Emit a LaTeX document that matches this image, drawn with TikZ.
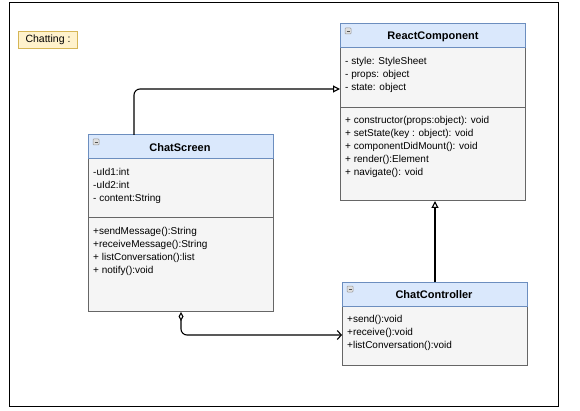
\documentclass[tikz,border=0pt]{standalone}
\usepackage{fontspec}
\setmainfont{Liberation Sans}
\usetikzlibrary{arrows.meta}
\definecolor{headfill}{HTML}{DAE8FC}
\definecolor{headline}{HTML}{6C8EBF}
\definecolor{bodyfill}{HTML}{F5F5F5}
\definecolor{bodyline}{HTML}{666666}
\definecolor{notefill}{HTML}{FFF2CC}
\definecolor{noteline}{HTML}{D6B656}
\tikzset{
  classbox/.style={draw=bodyline, fill=bodyfill, line width=1pt, anchor=north west, inner sep=0pt},
  headbar/.style={fill=headfill, draw=headline, line width=1pt},
  divline/.style={draw=bodyline, line width=1pt},
  title/.style={font=\bfseries\fontsize{11}{13}\selectfont, inner sep=0pt},
  members/.style={font=\fontsize{10}{13}\selectfont, align=left, anchor=north west, inner sep=0pt},
  collapse/.style={draw=gray!80, fill=gray!25, line width=0.5pt, rounded corners=0.8pt},
  inh/.style={draw=black, line width=1.1pt, -{Triangle[open, length=7pt, width=7pt, fill=white]}},
  agg/.style={draw=black, line width=1.1pt, {Diamond[open, length=9pt, width=5pt, fill=white]}-{Straight Barb[length=4pt, width=9pt]}},
  notebox/.style={draw=noteline, fill=notefill, line width=1pt, font=\fontsize{10.5}{12}\selectfont, minimum width=59pt, minimum height=17pt, inner sep=0pt, anchor=north west}
}
\begin{document}
\begin{tikzpicture}[x=1pt,y=-1pt]
\useasboundingbox (0,0) rectangle (580,411);
\draw[black, line width=1pt] (9,3) rectangle (558,406);

\node[notebox] (note) at (18,31) {Chatting :};

% ReactComponent
\node[classbox, minimum width=185pt, minimum height=176pt] (rc) at (340,24) {};
\draw[headbar] (340,24) rectangle (525,48);
\draw[collapse] (345,28) rectangle (351,34);
\draw[bodyline!80!black, line width=0.6pt] (346.5,31) -- (349.5,31);
\node[title] (rct) at (433,37) {ReactComponent};
\draw[divline] (340,108) -- (525,108);
\node[members] (rca) at (345,57) {- style: StyleSheet\\- props: object\\- state: object};
\node[members] (rcm) at (345,116) {+ constructor(props:object): void\\+ setState(key : object): void\\+ componentDidMount(): void\\+ render():Element\\+ navigate(): void};

% ChatScreen
\node[classbox, minimum width=185pt, minimum height=176pt] (cs) at (88,135) {};
\draw[headbar] (88,135) rectangle (273,159);
\draw[collapse] (93,139) rectangle (99,145);
\draw[bodyline!80!black, line width=0.6pt] (94.5,142) -- (97.5,142);
\node[title] (cst) at (180,148) {ChatScreen};
\draw[divline] (88,218) -- (273,218);
\node[members] (csa) at (93,168) {-uId1:int\\-uId2:int\\- content:String};
\node[members] (csm) at (93,227) {+sendMessage():String\\+receiveMessage():String\\+ listConversation():list\\+ notify():void};

% ChatController
\node[classbox, minimum width=185pt, minimum height=83pt] (cc) at (342,282) {};
\draw[headbar] (342,282) rectangle (527,306);
\draw[collapse] (347,286) rectangle (353,292);
\draw[bodyline!80!black, line width=0.6pt] (348.5,289) -- (351.5,289);
\node[title] (cct) at (434,295) {ChatController};
\node[members] (ccm) at (347,315) {+send():void\\+receive():void\\+listConversation():void};

% connectors
\draw[inh, rounded corners=6pt] ([xshift=46pt]cs.north west) |- ([yshift=-65pt]rc.north west);
\draw[inh] ([xshift=93pt]cc.north west) -- ([xshift=93pt]cc.north west |- rc.south);
\draw[agg, rounded corners=6pt] ([xshift=93pt]cs.south west) |- ([yshift=-53pt]cc.north west);
\end{tikzpicture}
\end{document}
